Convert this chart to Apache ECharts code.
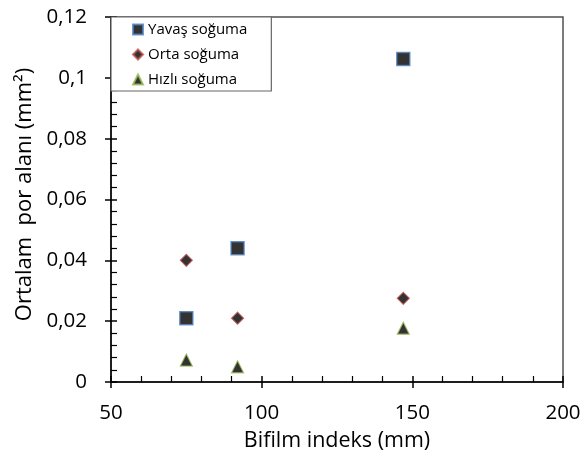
<!DOCTYPE html>
<html>
<head>
<meta charset="utf-8">
<script src="https://cdn.jsdelivr.net/npm/echarts@6/dist/echarts.min.js"></script>
<style>
  html, body { margin: 0; padding: 0; background: #fff; }
  #chart { width: 584px; height: 463px; }
</style>
</head>
<body>
<div id="chart"></div>
<script>
// Bifilm index (mm) against mean pore area (mm²) for three cooling rates
const seriesNames = ['Yavaş soğuma', 'Orta soğuma', 'Hızlı soğuma'];
const bifilmIndex = [75, 92, 147];
const slowCooling = [0.021, 0.044, 0.1062];
const mediumCooling = [0.040, 0.021, 0.0275];
const fastCooling = [0.0072, 0.005, 0.0177];

const FONT = '"Open Sans", "Noto Sans", sans-serif';

function pairs(xs, ys) {
  return xs.map((x, i) => [x, ys[i]]);
}

const chart = echarts.init(document.getElementById('chart'), null, { renderer: 'canvas' });

const gridPos = { left: 111, top: 17, right: 21, bottom: 81 };

const commaFmt = v => String(+v.toFixed(4)).replace('.', ',');

chart.setOption({
  animation: false,
  backgroundColor: '#fff',
  textStyle: { fontFamily: FONT },
  grid: Object.assign({ show: true, borderColor: '#505050', borderWidth: 1.5, containLabel: false }, gridPos),
  legend: {
    orient: 'vertical',
    left: 111,
    top: 17,
    padding: [5, 24, 4, 21],
    itemGap: 10,
    itemWidth: 10,
    itemHeight: 10,
    borderColor: '#666',
    borderWidth: 1.2,
    backgroundColor: '#fff',
    textStyle: { fontFamily: FONT, fontSize: 15, color: '#000' },
    data: seriesNames
  },
  xAxis: [
    {
      type: 'value', min: 50, max: 200, interval: 50,
      axisLine: { show: true, lineStyle: { color: '#000', width: 1.5 } },
      axisTick: { show: true, length: 6, lineStyle: { color: '#000', width: 1.5 } },
      minorTick: { show: false },
      splitLine: { show: false },
      axisLabel: { fontSize: 20.5, color: '#000', margin: 21, fontFamily: FONT },
      name: 'Bifilm indeks (mm)',
      nameLocation: 'middle',
      nameGap: 48,
      nameTextStyle: { fontSize: 21.5, color: '#000', fontFamily: FONT }
    },
    {
      type: 'value', min: 50, max: 200, interval: 50, position: 'bottom',
      axisLine: { show: false },
      axisTick: { show: true, inside: true, length: 6, lineStyle: { color: '#000', width: 1.5 } },
      minorTick: { show: true, splitNumber: 5, length: 6, lineStyle: { color: '#000', width: 1.2 } },
      splitLine: { show: false },
      axisLabel: { show: false }
    }
  ],
  yAxis: [
    {
      type: 'value', min: 0, max: 0.12, interval: 0.02,
      axisLine: { show: true, lineStyle: { color: '#000', width: 1.5 } },
      axisTick: { show: true, length: 6, lineStyle: { color: '#000', width: 1.5 } },
      splitLine: { show: false },
      axisLabel: { fontSize: 20.5, color: '#000', margin: 24, fontFamily: FONT, formatter: commaFmt },
      name: 'Ortalam  por alanı (mm²)',
      nameLocation: 'middle',
      nameGap: 69,
      nameRotate: 90,
      nameTextStyle: { fontSize: 22, color: '#000', fontFamily: FONT, padding: [0, 0, 0, 10] }
    },
    {
      type: 'value', min: 0, max: 0.12, interval: 0.02, position: 'left',
      axisLine: { show: false },
      axisTick: { show: true, inside: true, length: 6, lineStyle: { color: '#000', width: 1.5 } },
      minorTick: { show: true, splitNumber: 5, length: 6, lineStyle: { color: '#000', width: 1.2 } },
      splitLine: { show: false },
      axisLabel: { show: false }
    }
  ],
  series: [
    {
      name: seriesNames[0], type: 'scatter', symbol: 'rect', symbolSize: 13,
      itemStyle: { color: '#000', borderColor: '#4f81bd', borderWidth: 1.5 },
      data: pairs(bifilmIndex, slowCooling)
    },
    {
      name: seriesNames[1], type: 'scatter', symbol: 'diamond', symbolSize: 12,
      itemStyle: { color: '#000', borderColor: '#c0504d', borderWidth: 1.2 },
      data: pairs(bifilmIndex, mediumCooling)
    },
    {
      name: seriesNames[2], type: 'scatter', symbol: 'triangle', symbolSize: 12,
      itemStyle: { color: '#000', borderColor: '#9bbb59', borderWidth: 1.2 },
      data: pairs(bifilmIndex, fastCooling)
    }
  ]
});
</script>
</body>
</html>
